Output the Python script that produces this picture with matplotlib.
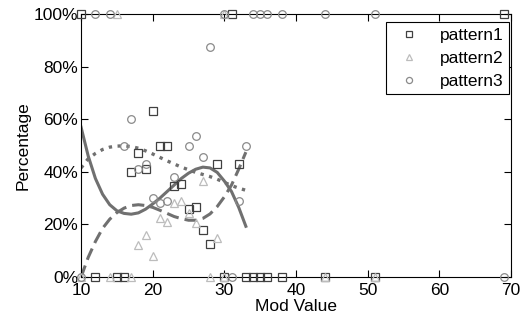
import matplotlib
matplotlib.use("Agg")
import matplotlib.pyplot as plt
from matplotlib.ticker import FuncFormatter

plt.rcParams['font.family'] = ['Liberation Sans', 'DejaVu Sans']

# scatter data (mod value, percentage)
p1_x = [10, 31, 69, 12, 15, 16, 30, 33, 34, 35, 36, 38, 44, 51,
        17, 18, 19, 20, 21, 22, 23, 24, 25, 26, 27, 28, 29, 32]
p1_y = [100, 100, 100, 0, 0, 0, 0, 0, 0, 0, 0, 0, 0, 0,
        40, 47, 41, 63, 50, 50, 34.5, 35.5, 26, 26.5, 18, 12.5, 43, 43]

p2_x = [15, 30, 10, 14, 17, 28, 30, 44, 51,
        18, 19, 20, 21, 22, 23, 24, 25, 26, 27, 29]
p2_y = [100, 100, 0, 0, 0, 0, 0, 0, 0,
        12, 16, 8, 22.5, 21, 28, 29, 24.5, 20.5, 36.5, 15]

p3_x = [12, 14, 30, 34, 35, 36, 38, 44, 51, 10, 31, 69,
        16, 17, 18, 19, 20, 21, 22, 23, 25, 26, 27, 28, 32, 33]
p3_y = [100, 100, 100, 100, 100, 100, 100, 100, 100, 0, 0, 0,
        50, 60, 41, 43, 30, 28, 29, 38, 50, 53.5, 45.5, 87.5, 29, 50]

# fitted trend curves
fit_x = list(range(10, 34))
fit1 = [57, 46, 37.5, 31.5, 27.5, 25.2, 24.2, 23.9, 24.4, 25.8, 27.8, 30.0,
        32.5, 35.0, 37.5, 39.5, 41.0, 41.8, 41.5, 39.8, 36.5, 32.5, 26.5, 19.3]
fit2 = [0, 7.5, 13.5, 18.5, 22.0, 24.5, 26.2, 27.2, 27.5, 27.2, 26.5, 25.4,
        24.2, 23.0, 22.2, 21.6, 21.6, 22.3, 24.0, 26.8, 30.5, 35.0, 41.0, 47.5]
fit3 = [41.5, 45.0, 47.0, 48.5, 49.4, 49.8, 49.9, 49.6, 49.0, 48.0, 46.8, 45.5,
        44.2, 43.0, 41.8, 40.8, 39.8, 39.0, 38.2, 37.2, 36.0, 34.8, 33.8, 33.0]

fig = plt.figure(figsize=(5.23, 3.21), dpi=100)
ax = fig.add_axes([0.155, 0.137, 0.822, 0.819])

line_c = '#707070'
ax.plot(fit_x, fit1, '-', color=line_c, lw=2.2, zorder=2)
ax.plot(fit_x, fit2, '--', color=line_c, lw=2.2, dashes=(4, 2), zorder=2)
ax.plot(fit_x, fit3, ':', color=line_c, lw=2.4, zorder=2)

ax.plot(p1_x, p1_y, 's', mfc='none', mec='#404040', ms=5.5, mew=0.9,
        ls='none', clip_on=False, label='pattern1', zorder=3)
ax.plot(p2_x, p2_y, '^', mfc='none', mec='#bcbcbc', ms=5.5, mew=0.9,
        ls='none', clip_on=False, label='pattern2', zorder=3)
ax.plot(p3_x, p3_y, 'o', mfc='none', mec='#8a8a8a', ms=5.5, mew=0.9,
        ls='none', clip_on=False, label='pattern3', zorder=3)

ax.set_xlim(10, 70)
ax.set_ylim(0, 100)
ax.set_xticks(range(10, 71, 10))
ax.set_yticks(range(0, 101, 20))
ax.yaxis.set_major_formatter(FuncFormatter(lambda v, p: f'{v:.0f}%'))
ax.tick_params(direction='in', top=True, right=True, labelsize=12.5,
               length=5, width=0.8)
ax.tick_params(axis='x', pad=4)
ax.tick_params(axis='y', pad=2)
for s in ax.spines.values():
    s.set_linewidth(0.8)

ax.set_xlabel('Mod Value', fontsize=12.5, labelpad=1)
ax.set_ylabel('Percentage', fontsize=12.5, labelpad=2)

leg = ax.legend(loc='upper right', bbox_to_anchor=(1.0, 0.975), fontsize=12.5,
                fancybox=False, framealpha=1, edgecolor='black',
                handletextpad=0.8, borderpad=0.3, labelspacing=0.45,
                handlelength=2.0, markerscale=0.8, borderaxespad=0.1)
leg.get_frame().set_linewidth(0.8)

fig.savefig('out.png', dpi=100)
